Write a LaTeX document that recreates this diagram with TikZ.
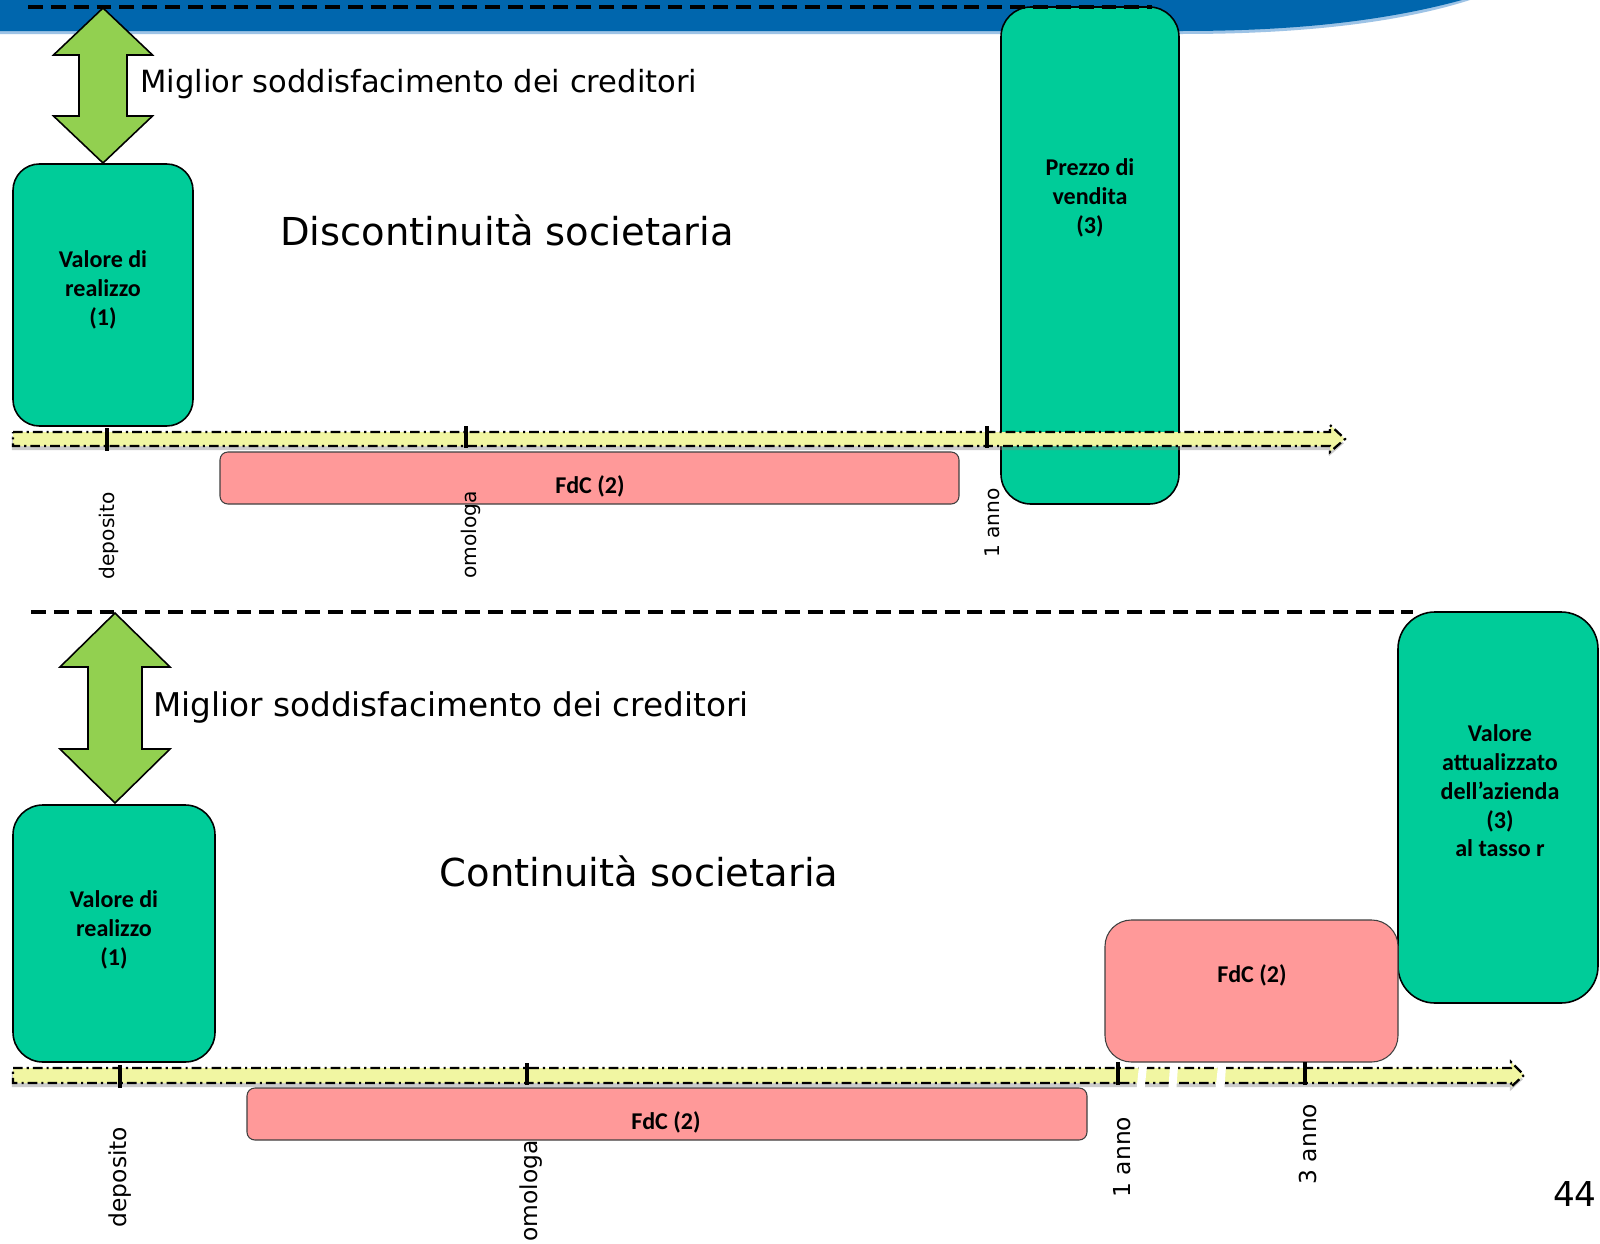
\documentclass[tikz,border=0pt]{standalone}
\usepackage{fontspec}
\setmainfont{DejaVu Sans}
\newfontfamily\boxfont{Carlito}
\usetikzlibrary{shadows}
\definecolor{banner}{HTML}{0066AD}
\definecolor{bannerlt}{HTML}{9DC3E6}
\definecolor{teal}{HTML}{00CC99}
\definecolor{rose}{HTML}{FF9999}
\definecolor{leaf}{HTML}{92D050}
\definecolor{straw}{HTML}{F1F6A2}
\tikzset{
  every node/.style={inner sep=0pt,text=black},
  valbox/.style={draw=black,line width=.9pt,fill=teal},
  fdcbox/.style={draw=black!75,line width=.6pt,fill=rose},
  boxtxt/.style={font=\boxfont\bfseries\fontsize{13.7}{16.4}\selectfont,align=center},
  heading/.style={font=\fontsize{21.9}{26}\selectfont,anchor=base},
  claim/.style={font=\fontsize{17.4}{21}\selectfont,anchor=base west},
  when/.style={rotate=90,font=\fontsize{11.5}{14}\selectfont},
  whenbig/.style={rotate=90,font=\fontsize{13.3}{16}\selectfont},
  tick/.style={line width=2.3pt},
  sep/.style={dash pattern=on 8.5pt off 4.5pt,line width=2.3pt},
  axis/.style={fill=straw,draw=black,line width=1.3pt,
    dash pattern=on 5.5pt off 2.3pt on 1.2pt off 2.3pt,
    drop shadow={shadow xshift=-.6pt,shadow yshift=-2.4pt,opacity=.4}},
  twoway/.style={draw=black,line width=.9pt,fill=leaf,line join=miter},
}
% x, y top, y bottom, head half width, shaft half width, head length
\newcommand{\updown}[6]{\draw[twoway] (#1,#2) -- ({#1+#4},{#2+#6}) -- ({#1+#5},{#2+#6}) -- ({#1+#5},{#3-#6}) -- ({#1+#4},{#3-#6}) -- (#1,#3) -- ({#1-#4},{#3-#6}) -- ({#1-#5},{#3-#6}) -- ({#1-#5},{#2+#6}) -- ({#1-#4},{#2+#6}) -- cycle;}

\begin{document}
\begin{tikzpicture}[x=0.02cm,y=-0.02cm]
\path[use as bounding box] (0,0) rectangle (1600,1244);
\fill[white] (0,0) rectangle (1600,1244);
% title band
\fill[bannerlt] (0,0) -- (1470,0) .. controls (1395,24) and (1295,34) .. (1183,34) -- (0,34) -- cycle;
\fill[banner] (0,0) -- (1462,0) .. controls (1385,21) and (1295,31) .. (1183,31) -- (0,31) -- cycle;
% Upper part: discontinuita
\draw[valbox,rounded corners=15pt] (13,164) rectangle (193,426);
\node[boxtxt] (valA) at (103,290) {Valore di\\realizzo\\(1)};
\draw[valbox,rounded corners=17pt] (1001,7) rectangle (1179,504);
\node[boxtxt] (prezzo) at (1090,198) {Prezzo di\\vendita\\(3)};
\draw[fdcbox,rounded corners=4.5pt] (220,452) rectangle (959,504);
\node[boxtxt] (fdcA) at (590,486) {FdC (2)};
\draw[sep] (28,7) -- (1152,7);
\updown{103}{8}{163}{49.5}{24}{47}
\node[claim] (migA) at (140,92) {Miglior soddisfacimento dei creditori};
\node[heading] (disc) at (507,245) {Discontinuità societaria};
\path[axis] (13,432) -- (1330,432) -- (1330,425) -- (1345,439) -- (1330,452) -- (1330,446) -- (13,446) -- cycle;
\draw[tick] (107,428) -- (107,451);
\draw[tick] (466,426) -- (466,448);
\draw[tick] (987,426) -- (987,448);
\node[when] (depA) at (109,536) {deposito};
\node[when] (omoA) at (471,535) {omologa};
\node[when] (annoA) at (992,523) {1 anno};
% Lower part: continuita
\draw[valbox,rounded corners=17pt] (13,805) rectangle (215,1062);
\node[boxtxt] (valB) at (114,930) {Valore di\\realizzo\\(1)};
\draw[valbox,rounded corners=21pt] (1398,612) rectangle (1598,1003);
\node[boxtxt] (attual) at (1500,791) {Valore\\attualizzato\\dell’azienda\\(3)\\al tasso r};
\draw[fdcbox,rounded corners=15pt] (1105,920) rectangle (1398,1062);
\node[boxtxt] (fdcC) at (1252,975) {FdC (2)};
\draw[fdcbox,rounded corners=4.5pt] (247,1088) rectangle (1087,1140);
\node[boxtxt] (fdcB) at (666,1122) {FdC (2)};
\draw[sep] (31,612) -- (1413,612);
\updown{115}{613}{803}{55}{27}{54}
\node[claim,font=\fontsize{18.6}{22}\selectfont] (migB) at (153,716) {Miglior soddisfacimento dei creditori};
\node[heading] (cont) at (639,886) {Continuità societaria};
\path[axis] (13,1068) -- (1511,1068) -- (1511,1062) -- (1524,1075) -- (1511,1087) -- (1511,1083) -- (13,1083) -- cycle;
\draw[tick] (120,1065) -- (120,1088);
\draw[tick] (527,1063) -- (527,1085);
\draw[tick] (1118,1062) -- (1118,1085);
\draw[tick] (1305,1062) -- (1305,1085);
% breaks in the time line
\fill[white] (1139,1066) -- (1147,1066) -- (1144,1094) -- (1136,1094) -- cycle;
\fill[white] (1170,1066) -- (1178,1066) -- (1176,1094) -- (1168,1094) -- cycle;
\fill[white] (1218,1066) -- (1226,1066) -- (1224,1094) -- (1215,1094) -- cycle;
\node[whenbig] (depB) at (120,1177) {deposito};
\node[whenbig] (omoB) at (531,1191) {omologa};
\node[whenbig] (annoB) at (1122,1157) {1 anno};
\node[whenbig] (annoC) at (1308,1144) {3 anno};
\node[font=\fontsize{19.5}{23}\selectfont,anchor=base east] (page) at (1597,1206) {44};
\end{tikzpicture}
\end{document}
